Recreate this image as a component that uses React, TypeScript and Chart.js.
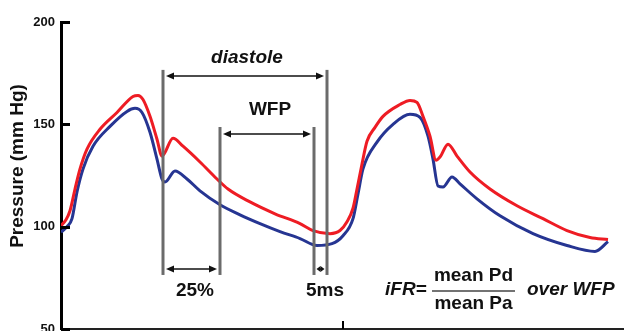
import React, { useEffect, useRef } from "react";
import { Chart, registerables } from "chart.js";

Chart.register(...registerables);

// ---- data (time in arbitrary sample units, pressure in mm Hg) ----
const yTickValues = [50, 100, 150, 200];

const paTime = [0, 5, 9, 14, 19, 26, 39, 56, 72, 77, 82, 89, 96, 101, 112, 122, 139, 156, 167, 189, 214, 239, 252, 269, 279, 286, 292, 296, 301, 306, 314, 322, 339, 349, 356, 362, 369, 375, 379, 387, 396, 409, 429, 456, 482, 506, 529, 547];
const paPressure = [100.5, 103.4, 107.8, 118.4, 128.2, 137.9, 147.6, 155.8, 163.6, 164.1, 162.1, 153.9, 142.7, 134.5, 143.2, 139.3, 131.6, 123.3, 118.4, 112.1, 106.3, 101.5, 98.1, 96.6, 98.1, 102.4, 109.0, 118.4, 130.6, 141.7, 148.5, 153.9, 159.7, 161.7, 160.7, 153.9, 144.2, 132.5, 134.0, 140.3, 134.5, 126.7, 118.4, 110.2, 103.9, 98.1, 94.7, 93.7];

const pdTime = [0, 6, 11, 16, 22, 32, 49, 66, 74, 81, 89, 96, 101, 104, 114, 126, 139, 159, 179, 199, 219, 239, 256, 271, 282, 292, 297, 302, 316, 332, 349, 359, 367, 372, 377, 382, 391, 399, 416, 439, 472, 506, 534, 547];
const pdPressure = [97.3, 100.0, 103.9, 117.0, 128.2, 139.3, 149.0, 156.3, 157.8, 155.8, 146.1, 133.0, 123.3, 121.8, 127.2, 123.3, 117.5, 110.7, 105.8, 101.5, 97.6, 94.2, 90.8, 91.7, 95.6, 103.9, 116.0, 128.2, 141.3, 150.0, 154.9, 153.4, 144.2, 133.0, 119.9, 119.4, 124.3, 120.9, 113.6, 105.3, 96.6, 90.8, 87.9, 92.7];

// phase markers (time units)
const diastoleStart = 102;
const wfpStart = 159;
const wfpEnd = 253;
const diastoleEnd = 266;
const xAxisMarks = [282];

const FONT = '"Liberation Sans", Arial, Helvetica, sans-serif';

function head(ctx: CanvasRenderingContext2D, x: number, y: number, dir: number, len: number, half: number) {
  ctx.beginPath();
  ctx.moveTo(x, y);
  ctx.lineTo(x - dir * len, y - half);
  ctx.lineTo(x - dir * len, y + half);
  ctx.closePath();
  ctx.fill();
}

function doubleArrow(ctx: CanvasRenderingContext2D, x1: number, x2: number, y: number, len = 8, half = 3.5) {
  ctx.beginPath();
  ctx.moveTo(x1 + len - 1, y);
  ctx.lineTo(x2 - len + 1, y);
  ctx.stroke();
  head(ctx, x1, y, -1, len, half);
  head(ctx, x2, y, 1, len, half);
}

const annotationPlugin = {
  id: "ifrAnnotations",
  afterDatasetsDraw(chart: any) {
    const ctx: CanvasRenderingContext2D = chart.ctx;
    const xs = chart.scales.x;
    const ys = chart.scales.y;
    const area = chart.chartArea;
    const X = (v: number) => xs.getPixelForValue(v);
    const Y = (v: number) => ys.getPixelForValue(v);
    ctx.save();

    // inward y ticks
    ctx.strokeStyle = "#000";
    ctx.lineWidth = 3;
    yTickValues.forEach((v) => {
      const py = Math.round(Y(v)) + 0.5;
      ctx.beginPath();
      ctx.moveTo(area.left, py);
      ctx.lineTo(area.left + 9, py);
      ctx.stroke();
    });
    // x mark(s)
    ctx.lineWidth = 2;
    xAxisMarks.forEach((t) => {
      const px = Math.round(X(t));
      ctx.beginPath();
      ctx.moveTo(px, area.bottom);
      ctx.lineTo(px, area.bottom - 8);
      ctx.stroke();
    });

    // vertical phase lines
    ctx.strokeStyle = "#6b6b6b";
    ctx.lineWidth = 3;
    const bottomV = 76.4;
    const lines: [number, number][] = [
      [diastoleStart, 176.6],
      [wfpStart, 148.7],
      [wfpEnd, 148.7],
      [diastoleEnd, 176.6],
    ];
    lines.forEach(([t, top]) => {
      ctx.beginPath();
      ctx.moveTo(X(t), Y(top));
      ctx.lineTo(X(t), Y(bottomV));
      ctx.stroke();
    });

    // arrows
    ctx.strokeStyle = "#111";
    ctx.fillStyle = "#111";
    ctx.lineWidth = 1.6;
    doubleArrow(ctx, X(diastoleStart) + 3, X(diastoleEnd) - 3, Y(173.6));
    doubleArrow(ctx, X(wfpStart) + 3, X(wfpEnd) - 3, Y(145.3));
    doubleArrow(ctx, X(diastoleStart) + 3, X(wfpStart) - 3, Y(79.3));
    doubleArrow(ctx, X(wfpEnd) + 2.5, X(diastoleEnd) - 2.5, Y(79.3), 4, 3);

    // texts
    ctx.textBaseline = "middle";
    ctx.textAlign = "center";
    ctx.font = `italic bold 19px ${FONT}`;
    ctx.fillText("diastole", X(186), Y(182.4));
    ctx.font = `bold 19px ${FONT}`;
    ctx.fillText("WFP", X(209), Y(157.0));
    ctx.fillText("25%", X(134), Y(68.6));
    ctx.fillText("5ms", X(264), Y(68.6));

    // formula
    ctx.textAlign = "left";
    ctx.font = `italic bold 19px ${FONT}`;
    ctx.fillText("iFR=", X(324), Y(69.1));
    ctx.fillText("over WFP", X(466), Y(69.1));
    ctx.textAlign = "center";
    ctx.font = `bold 19px ${FONT}`;
    ctx.fillText("mean Pd", X(412.5), Y(75.8));
    ctx.fillText("mean Pa", X(412.5), Y(62.4));
    ctx.strokeStyle = "#444";
    ctx.lineWidth = 1.6;
    ctx.beginPath();
    ctx.moveTo(X(371), Y(68.6));
    ctx.lineTo(X(454), Y(68.6));
    ctx.stroke();

    // y title
    ctx.save();
    ctx.translate(18, 166);
    ctx.rotate(-Math.PI / 2);
    ctx.fillStyle = "#111";
    ctx.font = `bold 19px ${FONT}`;
    ctx.textAlign = "center";
    ctx.textBaseline = "middle";
    ctx.fillText("Pressure (mm Hg)", 0, 0);
    ctx.restore();

    ctx.restore();
  },
};

export default function App() {
  const ref = useRef<HTMLCanvasElement | null>(null);
  useEffect(() => {
    if (!ref.current) return;
    const chart = new Chart(ref.current, {
      type: "line",
      data: {
        datasets: [
          {
            label: "Pa",
            data: paTime.map((t, i) => ({ x: t, y: paPressure[i] })),
            borderColor: "#ee1c24",
            borderWidth: 3,
            pointRadius: 0,
            cubicInterpolationMode: "monotone",
            fill: false,
          },
          {
            label: "Pd",
            data: pdTime.map((t, i) => ({ x: t, y: pdPressure[i] })),
            borderColor: "#263592",
            borderWidth: 3,
            pointRadius: 0,
            cubicInterpolationMode: "monotone",
            fill: false,
          },
        ],
      },
      options: {
        responsive: false,
        animation: false,
        layout: { padding: { top: 22, right: 0, bottom: 2, left: 0 } },
        plugins: { legend: { display: false }, tooltip: { enabled: false } },
        scales: {
          x: {
            type: "linear",
            min: 0,
            max: 563,
            ticks: { display: false },
            grid: { display: false, drawTicks: false },
            border: { display: true, color: "#222", width: 2 },
            afterFit: (s: any) => {
              s.height = 0;
              s.paddingLeft = 0;
              s.paddingRight = 0;
            },
          },
          y: {
            type: "linear",
            min: 50,
            max: 200,
            ticks: {
              stepSize: 50,
              padding: 6,
              color: "#111",
              font: { family: FONT, size: 13, weight: "bold" },
            },
            grid: { display: false, drawTicks: false },
            border: { display: true, color: "#000", width: 3 },
            afterFit: (s: any) => {
              s.width = 61;
              s.paddingTop = 0;
              s.paddingBottom = 0;
            },
          },
        },
      },
      plugins: [annotationPlugin],
    } as any);
    return () => chart.destroy();
  }, []);
  return (
    <div style={{ position: "absolute", left: 0, top: 0, width: 624, height: 331, background: "#fff" }}>
      <canvas ref={ref} width={624} height={331} />
    </div>
  );
}
